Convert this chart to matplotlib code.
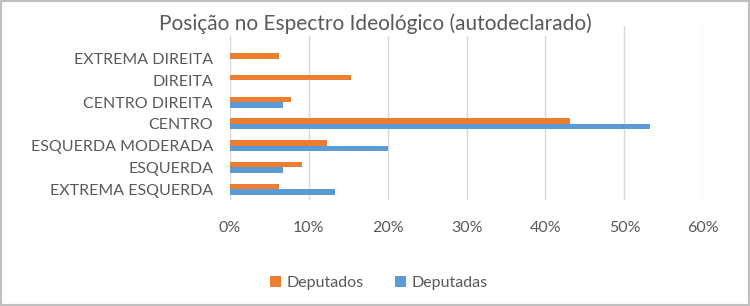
import numpy as np
import matplotlib.pyplot as plt
from matplotlib.patches import Rectangle

plt.rcParams['font.family'] = ['Lato', 'DejaVu Sans']

# categories from bottom to top
categories = ['EXTREMA ESQUERDA', 'ESQUERDA', 'ESQUERDA MODERADA', 'CENTRO',
              'CENTRO DIREITA', 'DIREITA', 'EXTREMA DIREITA']
deputados = [6.2, 9.2, 12.3, 43.1, 7.7, 15.4, 6.2]
deputadas = [13.3, 6.7, 20.0, 53.3, 6.7, 0.0, 0.0]
xticks = [0, 10, 20, 30, 40, 50, 60]

orange = '#ED7D31'
blue = '#5B9BD5'
text_grey = '#595959'

fig = plt.figure(figsize=(7.5, 3.06), dpi=100)
ax = fig.add_axes([0.3063, 0.3464, 0.6315, 0.5686])

y = np.arange(len(categories))
h = 0.25
ax.barh(y + h / 2, deputados, height=h, color=orange, label='Deputados', zorder=3)
ax.barh(y - h / 2, deputadas, height=h, color=blue, label='Deputadas', zorder=3)

ax.set_xlim(0, 60)
ax.set_ylim(-0.5, 7.5)
ax.set_xticks(xticks)
ax.set_xticklabels([f'{t}%' for t in xticks])
ax.set_yticks(y)
ax.set_yticklabels(categories)
ax.tick_params(axis='both', length=0, labelsize=11.5, labelcolor=text_grey)
ax.tick_params(axis='x', pad=15)
ax.tick_params(axis='y', pad=12)
ax.grid(axis='x', color='#D9D9D9', linewidth=1, zorder=0)
for s in ax.spines.values():
    s.set_visible(False)

fig.text(0.5, 0.922, 'Posição no Espectro Ideológico (autodeclarado)',
         ha='center', va='center', fontsize=15, color=text_grey, zorder=5,
         bbox=dict(facecolor='white', edgecolor='none', pad=1))

fig.legend(loc='center', bbox_to_anchor=(0.505, 0.075), ncol=2, frameon=False,
           fontsize=11.5, labelcolor=text_grey, handlelength=0.7, handleheight=0.7,
           handletextpad=0.3, columnspacing=2.0)

fig.patches.append(Rectangle((0, 0), 1, 1, transform=fig.transFigure, fill=False,
                             edgecolor='#BFBFBF', linewidth=3))

fig.savefig('out.png', dpi=100)
